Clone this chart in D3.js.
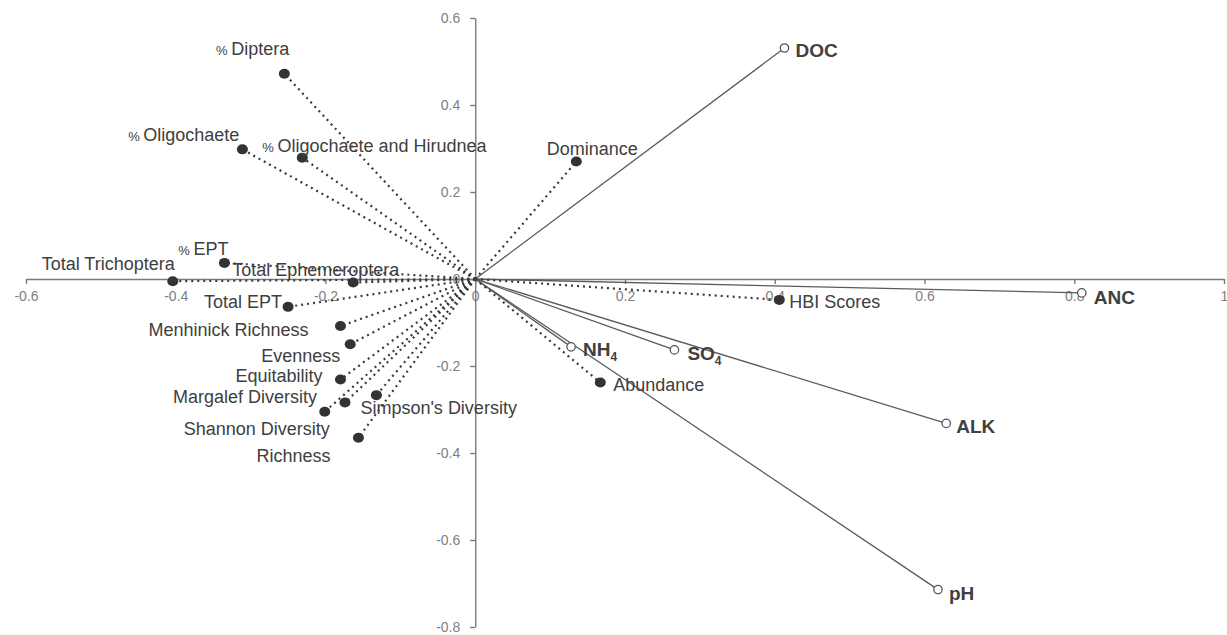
<!DOCTYPE html>
<html>
<head>
<meta charset="utf-8">
<script src="https://cdn.jsdelivr.net/npm/d3@7"></script>
<style>
    body { margin: 0; background: #fff; }
    .lbl { font-family: "Liberation Sans", Arial, sans-serif; fill: #404040; }
    .tick text { font-family: "Liberation Sans", Arial, sans-serif; fill: #808080; font-size: 14px; }
</style>
</head>
<body>
<div id="chart"></div>
<script>
// biological metrics (filled dots, dotted vectors)
const bioNames = ["Diptera", "Oligochaete", "Oligochaete and Hirudnea", "EPT", "Total Trichoptera",
    "Total Ephemeroptera", "Total EPT", "Menhinick Richness", "Evenness", "Equitability",
    "Margalef Diversity", "Simpson's Diversity", "Shannon Diversity", "Richness",
    "Dominance", "Abundance", "HBI Scores"];
const bioPercent = [true, true, true, true, false, false, false, false, false, false,
    false, false, false, false, false, false, false];
const bioX = [-0.255, -0.311, -0.231, -0.335, -0.404, -0.163, -0.250, -0.180, -0.167, -0.180,
    -0.174, -0.132, -0.201, -0.156, 0.135, 0.167, 0.406];
const bioY = [0.472, 0.298, 0.279, 0.037, -0.005, -0.008, -0.064, -0.108, -0.150, -0.231,
    -0.284, -0.267, -0.305, -0.365, 0.270, -0.238, -0.048];

// environmental variables (open circles, solid vectors)
const envNames = ["DOC", "ANC", "ALK", "pH", "NH", "SO"];
const envSub = ["", "", "", "", "4", "4"];
const envX = [0.413, 0.810, 0.629, 0.618, 0.128, 0.266];
const envY = [0.531, -0.032, -0.332, -0.714, -0.156, -0.163];

// axis ticks
const xTicks = [-0.6, -0.4, -0.2, 0, 0.2, 0.4, 0.6, 0.8, 1];
const yTicks = [-0.8, -0.6, -0.4, -0.2, 0, 0.2, 0.4, 0.6];

// label placement (pixel offsets from the marker)
const bioLabelPos = [
    {dx: 5, dy: -25, a: "end"}, {dx: -3, dy: -15, a: "end"}, {dx: -40, dy: -12, a: "start"},
    {dx: 4, dy: -14, a: "end"}, {dx: 2, dy: -17, a: "end"}, {dx: -121, dy: -13, a: "start"},
    {dx: -6, dy: -5, a: "end"}, {dx: -32, dy: 4, a: "end"}, {dx: -10, dy: 11, a: "end"},
    {dx: -18, dy: -4, a: "end"}, {dx: -28, dy: -6, a: "end"}, {dx: -16, dy: 13, a: "start"},
    {dx: 5, dy: 17, a: "end"}, {dx: -28, dy: 18, a: "end"}, {dx: 16, dy: -13, a: "middle"},
    {dx: 13, dy: 2, a: "start"}, {dx: 10, dy: 2, a: "start"}
];
const envLabelPos = [
    {dx: 11, dy: 2}, {dx: 12, dy: 4}, {dx: 10, dy: 3}, {dx: 11, dy: 4}, {dx: 12, dy: 2}, {dx: 13, dy: 3}
];

const width = 1227, height = 635;

const svg = d3.select("#chart").append("svg")
    .attr("width", width)
    .attr("height", height);

const x = d3.scaleLinear().domain([-0.6, 1]).range([26, 1224]);
const y = d3.scaleLinear().domain([-0.8, 0.6]).range([627, 18]);

const fmt = v => String(+v.toFixed(1));

// axes crossing at the origin
const xAxis = svg.append("g")
    .attr("transform", `translate(0,${y(0)})`)
    .call(d3.axisBottom(x).tickValues(xTicks).tickSize(5).tickSizeOuter(0).tickPadding(7).tickFormat(fmt));
const yAxis = svg.append("g")
    .attr("transform", `translate(${x(0)},0)`)
    .call(d3.axisLeft(y).tickValues(yTicks).tickSize(5).tickSizeOuter(0).tickPadding(10).tickFormat(fmt));
[xAxis, yAxis].forEach(g => {
    g.select(".domain").attr("stroke", "#7a7a7a").attr("stroke-width", 1.4);
    g.selectAll(".tick line").attr("stroke", "#7a7a7a").attr("stroke-width", 1.4);
});

const bio = bioNames.map((n, i) => ({name: n, pct: bioPercent[i], x: bioX[i], y: bioY[i], pos: bioLabelPos[i]}));
const env = envNames.map((n, i) => ({name: n, sub: envSub[i], x: envX[i], y: envY[i], pos: envLabelPos[i]}));

// environmental vectors
svg.append("g").selectAll("line")
    .data(env)
    .enter().append("line")
    .attr("x1", x(0)).attr("y1", y(0))
    .attr("x2", d => x(d.x)).attr("y2", d => y(d.y))
    .attr("stroke", "#5a5a5a")
    .attr("stroke-width", 1.3);

// biological vectors
svg.append("g").selectAll("line")
    .data(bio)
    .enter().append("line")
    .attr("x1", x(0)).attr("y1", y(0))
    .attr("x2", d => x(d.x)).attr("y2", d => y(d.y))
    .attr("stroke", "#3a3a3a")
    .attr("stroke-width", 2.2)
    .attr("stroke-dasharray", "2,4");

svg.append("g").selectAll("ellipse")
    .data(bio)
    .enter().append("ellipse")
    .attr("cx", d => x(d.x)).attr("cy", d => y(d.y))
    .attr("rx", 5.5).attr("ry", 5)
    .attr("fill", "#333");

svg.append("g").selectAll("circle")
    .data(env)
    .enter().append("circle")
    .attr("cx", d => x(d.x)).attr("cy", d => y(d.y))
    .attr("r", 4.2)
    .attr("fill", "#fff")
    .attr("stroke", "#555")
    .attr("stroke-width", 1.3);

// biological labels
const bioText = svg.append("g").selectAll("text")
    .data(bio)
    .enter().append("text")
    .attr("class", "lbl")
    .attr("x", d => x(d.x) + d.pos.dx)
    .attr("y", d => y(d.y) + d.pos.dy)
    .attr("dy", "0.35em")
    .attr("text-anchor", d => d.pos.a)
    .style("font-size", "18px");
bioText.filter(d => d.pct).append("tspan")
    .style("font-size", "13px")
    .text("% ");
bioText.append("tspan").text(d => d.name);

// environmental labels
const envText = svg.append("g").selectAll("text")
    .data(env)
    .enter().append("text")
    .attr("class", "lbl")
    .attr("x", d => x(d.x) + d.pos.dx)
    .attr("y", d => y(d.y) + d.pos.dy)
    .attr("dy", "0.35em")
    .style("font-size", "19px")
    .style("font-weight", "bold");
envText.append("tspan").text(d => d.name);
envText.filter(d => d.sub).append("tspan")
    .attr("dy", "5")
    .style("font-size", "12px")
    .text(d => d.sub);
</script>
</body>
</html>
